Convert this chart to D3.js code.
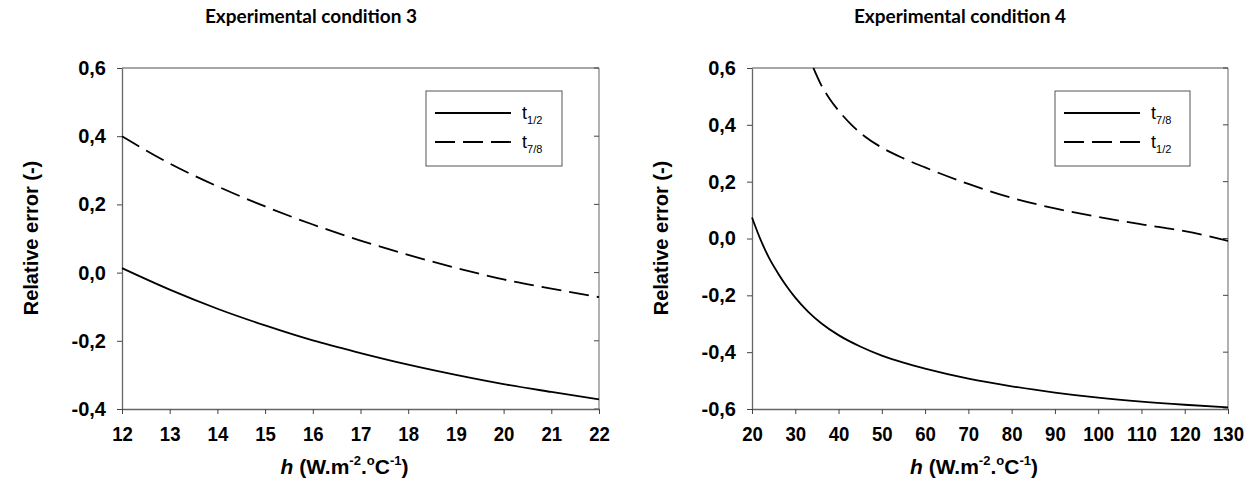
<!DOCTYPE html>
<html>
<head>
<meta charset="utf-8">
<script src="https://cdn.jsdelivr.net/npm/d3@7"></script>
<style>
  body { margin: 0; background: #fff; }
  svg { display: block; }
  .tick text { font-family: "Liberation Sans", Arial, sans-serif; font-weight: bold; fill: #000; }
</style>
</head>
<body>
<div id="chart"></div>
<script>
// Experimental condition 3
const cond3H = [12, 13, 14, 15, 16, 17, 18, 19, 20, 21, 22];
const cond3Half = [0.013, -0.05, -0.106, -0.155, -0.199, -0.236, -0.27, -0.3, -0.327, -0.35, -0.372];
const cond3Seven = [0.40, 0.32, 0.253, 0.194, 0.141, 0.094, 0.052, 0.014, -0.02, -0.047, -0.072];

// Experimental condition 4
const cond4H = [20, 22, 24, 26, 28, 30, 33, 36, 40, 45, 50, 55, 60, 70, 80, 90, 100, 110, 120, 130];
const cond4Seven = [0.074, -0.005, -0.07, -0.122, -0.168, -0.208, -0.258, -0.298, -0.34, -0.38, -0.412, -0.437, -0.458, -0.493, -0.52, -0.542, -0.56, -0.574, -0.585, -0.594];
const cond4HalfH = [34.2, 36, 38, 40, 43, 46, 50, 55, 60, 70, 80, 90, 100, 110, 120, 130];
const cond4Half = [0.6, 0.54, 0.49, 0.45, 0.4, 0.36, 0.32, 0.282, 0.25, 0.192, 0.143, 0.106, 0.076, 0.05, 0.026, -0.008];

const ticks3X = d3.range(12, 23, 1);
const ticks3Y = [-0.4, -0.2, 0.0, 0.2, 0.4, 0.6];
const ticks4X = d3.range(20, 131, 10);
const ticks4Y = [-0.6, -0.4, -0.2, 0.0, 0.2, 0.4, 0.6];

const width = 1245, height = 486;

const svg = d3.select("#chart")
    .append("svg")
    .attr("width", width)
    .attr("height", height);

const fmt = d => d3.format(".1f")(d).replace(".", ",").replace("−", "-");

function panel(o) {
    const x = d3.scaleLinear().domain(o.xDomain).range([o.left, o.right]);
    const y = d3.scaleLinear().domain(o.yDomain).range([409, 68]);
    const g = svg.append("g");

    // frame: top and right
    g.append("line").attr("x1", o.left).attr("x2", o.right).attr("y1", 68).attr("y2", 68)
        .attr("stroke", "#888").attr("stroke-width", 1.3);
    g.append("line").attr("x1", o.right).attr("x2", o.right).attr("y1", 68).attr("y2", 409)
        .attr("stroke", "#888").attr("stroke-width", 1.3);
    // inner ticks on right side
    g.selectAll(".rtick").data(o.yTicks).join("line")
        .attr("x1", o.right - 5).attr("x2", o.right)
        .attr("y1", d => y(d)).attr("y2", d => y(d))
        .attr("stroke", "#444");

    const yAxis = g.append("g")
        .attr("transform", `translate(${o.left},0)`)
        .call(d3.axisLeft(y).tickValues(o.yTicks).tickFormat(fmt).tickSizeInner(5).tickSizeOuter(0).tickPadding(11));
    yAxis.selectAll("text").attr("font-size", 20);

    const xAxis = g.append("g")
        .attr("transform", `translate(0,409)`)
        .call(d3.axisBottom(x).tickValues(o.xTicks).tickFormat(d3.format("d")).tickSizeInner(5).tickSizeOuter(0).tickPadding(13));
    xAxis.selectAll("text").attr("font-size", 20).attr("transform", "scale(0.93,1)");

    g.selectAll(".domain").attr("stroke", "#666").attr("stroke-width", 1.3);
    g.selectAll(".tick line").attr("stroke", "#444");

    const line = d3.line().x(d => x(d[0])).y(d => y(d[1])).curve(d3.curveMonotoneX);

    for (const s of o.series) {
        g.append("path")
            .datum(d3.zip(s.h, s.v))
            .attr("fill", "none")
            .attr("stroke", "#000")
            .attr("stroke-width", 1.8)
            .attr("stroke-dasharray", s.dash ? "20,8" : null)
            .attr("d", line);
    }

    // legend
    const lg = g.append("g").attr("transform", `translate(${o.legendX},91)`);
    lg.append("rect").attr("width", o.legendW).attr("height", 75)
        .attr("fill", "#fff").attr("stroke", "#555").attr("stroke-width", 1);
    o.series.forEach((s, i) => {
        const yy = 22 + i * 29;
        lg.append("line").attr("x1", 9).attr("x2", 85).attr("y1", yy).attr("y2", yy)
            .attr("stroke", "#000").attr("stroke-width", 1.8)
            .attr("stroke-dasharray", s.dash ? "20,8" : null);
        const t = lg.append("text").attr("x", 96).attr("y", yy + 6)
            .attr("font-family", "Liberation Sans, Arial, sans-serif").attr("font-size", 18);
        t.append("tspan").text("t");
        t.append("tspan").attr("font-size", 11).attr("dy", 5).text(s.name);
    });

    // title
    svg.append("text")
        .attr("x", o.titleX).attr("y", 23)
        .attr("text-anchor", "middle")
        .attr("font-family", "Lato, 'Open Sans', sans-serif")
        .attr("font-weight", "bold")
        .attr("font-size", 19)
        .text(o.title);

    // y label
    svg.append("text")
        .attr("transform", `translate(${o.left - 84},238) rotate(-90)`)
        .attr("text-anchor", "middle")
        .attr("font-family", "Liberation Sans, Arial, sans-serif")
        .attr("font-weight", "bold")
        .attr("font-size", 20)
        .text("Relative error (-)");

    // x label
    const xl = svg.append("text")
        .attr("x", (o.left + o.right) / 2 - 16).attr("y", 474)
        .attr("text-anchor", "middle")
        .attr("font-family", "Liberation Sans, Arial, sans-serif")
        .attr("font-weight", "bold")
        .attr("font-size", 21);
    xl.append("tspan").attr("font-style", "italic").text("h");
    xl.append("tspan").text(" (W.m");
    xl.append("tspan").attr("font-size", 13).attr("dy", -9).text("-2");
    xl.append("tspan").attr("dy", 9).text(".");
    xl.append("tspan").attr("font-size", 13).attr("dy", -9).text("o");
    xl.append("tspan").attr("dy", 9).text("C");
    xl.append("tspan").attr("font-size", 13).attr("dy", -9).text("-1");
    xl.append("tspan").attr("dy", 9).text(")");
}

panel({
    left: 122, right: 599,
    xDomain: [12, 22], yDomain: [-0.4, 0.6],
    xTicks: ticks3X, yTicks: ticks3Y,
    legendX: 426, legendW: 136,
    titleX: 311,
    title: "Experimental condition 3",
    series: [
        { name: "1/2", h: cond3H, v: cond3Half, dash: false },
        { name: "7/8", h: cond3H, v: cond3Seven, dash: true }
    ]
});

panel({
    left: 752, right: 1228,
    xDomain: [20, 130], yDomain: [-0.6, 0.6],
    xTicks: ticks4X, yTicks: ticks4Y,
    legendX: 1055, legendW: 135,
    titleX: 960,
    title: "Experimental condition 4",
    series: [
        { name: "7/8", h: cond4H, v: cond4Seven, dash: false },
        { name: "1/2", h: cond4HalfH, v: cond4Half, dash: true }
    ]
});
</script>
</body>
</html>
